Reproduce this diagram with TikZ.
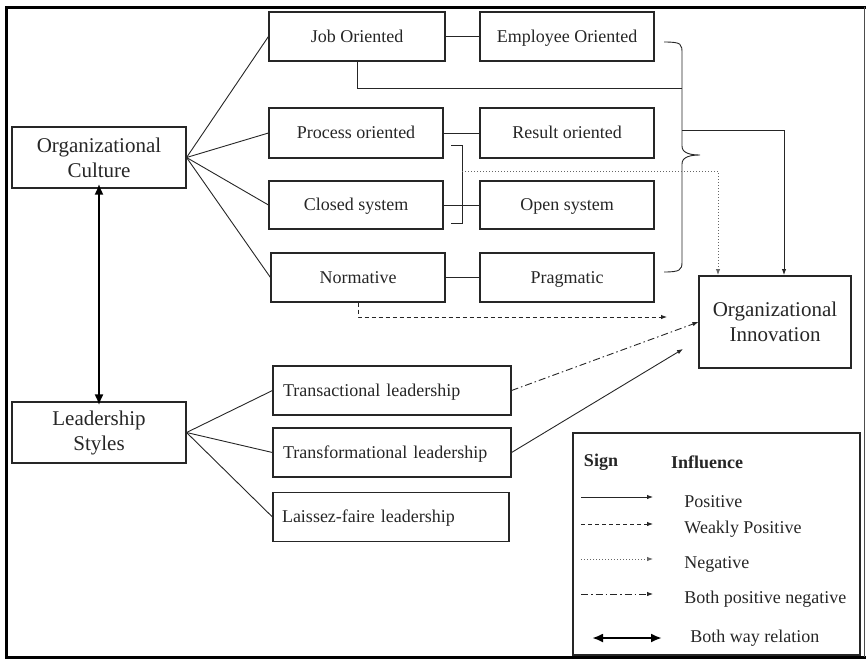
\documentclass[tikz,border=0pt]{standalone}
\usepackage{fontspec}
\setmainfont{Liberation Serif}
\usetikzlibrary{arrows.meta}

\begin{document}
\begin{tikzpicture}[x=1pt, y=-1pt, >={Latex[length=6pt,width=4.5pt]},
    line width=0.9pt, color=black!85,
    box/.style={draw, line width=1.1pt, minimum width=174pt, minimum height=49pt,
        inner sep=0pt, font=\fontsize{18}{21}\selectfont},
    cell/.style={box, text height=15pt, text depth=4pt},
    mainbox/.style={box, align=center, minimum height=61pt,
        font=\fontsize{21}{25}\selectfont},
    leadbox/.style={cell, minimum width=238pt, text width=218pt, align=left},
    legtext/.style={anchor=west, inner sep=0pt, font=\fontsize{18}{21}\selectfont},
    weak/.style={->, dash pattern=on 4pt off 3pt},
    neg/.style={->, black!60, dash pattern=on 1pt off 2pt},
    mixed/.style={->, dash pattern=on 7pt off 3pt on 1.5pt off 3pt},
    both/.style={{Latex[length=11pt,width=9pt]}-{Latex[length=11pt,width=9pt]}, line width=2.2pt, color=black}]

    \useasboundingbox (0,0) rectangle (866,659);

    % frame
    \draw[line width=3pt, black] (866,7) -- (6,7) -- (6,657) -- (866,657);
    \draw[line width=1pt, black!70] (864,7) -- (864,657);

    % main concepts
    \node[mainbox] (oc) at (99,157.5) {Organizational\\Culture};
    \node[mainbox] (ls) at (99,432.5) {Leadership\\Styles};
    \node[mainbox, minimum width=152pt, minimum height=92pt] (inn) at (775,322) {Organizational\\Innovation};

    % culture dimensions
    \node[cell, minimum width=176pt] (job) at (357,36.5) {Job Oriented};
    \node[cell] (emp) at (567,36.5) {Employee Oriented};
    \node[cell, minimum height=50pt] (proc) at (356,133) {Process oriented};
    \node[cell, minimum height=50pt] (res) at (567,133) {Result oriented};
    \node[cell, minimum height=48pt] (clo) at (356,205) {Closed system};
    \node[cell, minimum height=48pt] (opn) at (567,205) {Open system};
    \node[cell] (nor) at (358,277.5) {Normative};
    \node[cell] (prag) at (567,277.5) {Pragmatic};

    % leadership styles
    \node[leadbox] (trs) at (392,390.5) {Transactional leadership};
    \node[leadbox] (trf) at (392,452.5) {Transformational leadership};
    \node[leadbox, minimum width=236pt] (lai) at (391,517) {Laissez-faire leadership};

    % fans
    \foreach \b in {job,proc,clo,nor} {
        \draw (oc.east) -- (\b.west);
    }
    \foreach \b in {trs,trf,lai} {
        \draw (ls.east) -- (\b.west);
    }
    \foreach \a/\b in {job/emp,proc/res,clo/opn,nor/prag} {
        \draw (\a) -- (\b);
    }

    % big brace
    \coordinate (jobin) at (682,88);
    \coordinate (posout) at (682,130);
    \draw (664,42) .. controls (682,42) and (682,44) .. (682,54) -- (682,146)
        .. controls (682,153) and (690,155) .. (700,155)
        .. controls (690,155) and (682,157) .. (682,164) -- (682,262)
        .. controls (682,270) and (680,272) .. (664,272);
    \draw (job.south) |- (jobin);

    % square bracket
    \coordinate (negout) at (462,171);
    \draw (451,145) -- (462,145) -- (462,223) -- (451,223);

    % influences
    \draw[->] (posout) -| (784,275) coordinate (posin);
    \draw[neg] (negout) -| (718,275) coordinate (negin);
    \coordinate (weakin) at (667,317);
    \draw[weak] (nor.south) |- (weakin);
    \draw[mixed] (trs.east) -- (inn.west);
    \coordinate (trfin) at (683,349);
    \draw[->] (trf.east) -- (trfin);
    \draw[both] ([yshift=5pt]oc.south) -- ([yshift=-4pt]ls.north);

    % legend
    \node[draw, line width=1.1pt, minimum width=287pt, minimum height=222pt, inner sep=0pt] (key) at (716.5,544) {};
    \node[font=\fontsize{18}{21}\selectfont\bfseries] (sign) at (601,462) {Sign};
    \node[font=\fontsize{18}{21}\selectfont\bfseries] (infl) at (707,462) {Influence};
    \foreach \y/\s/\t in {497/->/Positive, 524/weak/Weakly Positive, 559/neg/Negative, 594/mixed/Both positive negative} {
        \draw[\s, line width=0.8pt] (581,\y) -- (653,\y);
        \node[legtext] at (684,\y+5) {\t};
    }
    \draw[both] (592,638) -- (662,638);
    \node[legtext] at (690,638) {Both way relation};

\end{tikzpicture}
\end{document}
